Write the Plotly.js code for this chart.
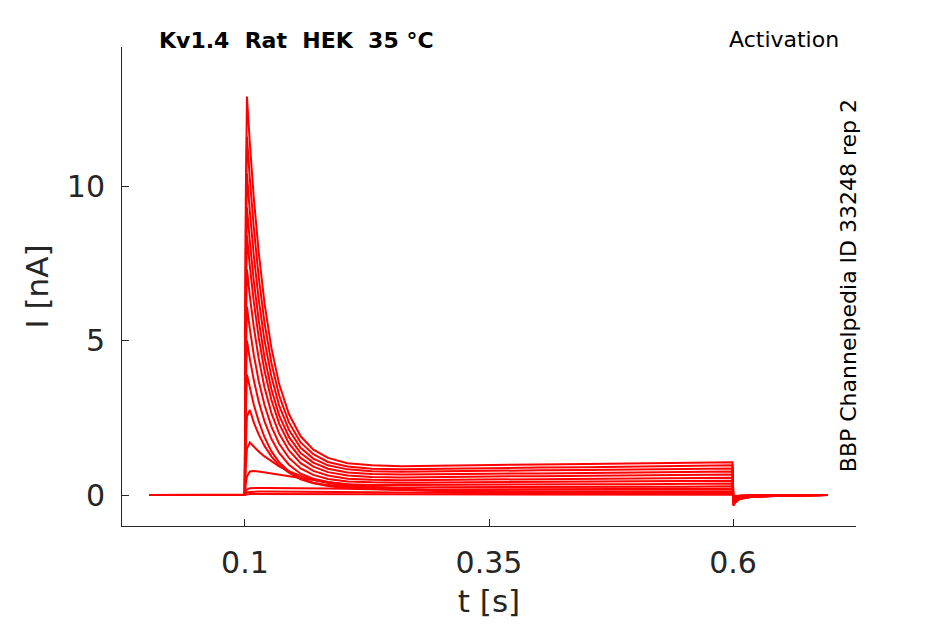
<!DOCTYPE html>
<html>
<head>
<meta charset="utf-8">
<script src="https://cdn.plot.ly/plotly-3.0.1.min.js"></script>
<style>html,body{margin:0;padding:0;background:#fff;}#chart{width:945px;height:624px;}</style>
</head>
<body>
<div id="chart"></div>
<script>
// time samples [s]
var timeS = [0.002, 0.05, 0.0998, 0.1008, 0.102, 0.105, 0.109, 0.114, 0.12, 0.127, 0.135, 0.145, 0.157, 0.17, 0.185, 0.205, 0.23, 0.26, 0.3, 0.35, 0.4, 0.45, 0.5, 0.55, 0.5995, 0.6005, 0.602, 0.607, 0.62, 0.65, 0.697];

// current traces [nA], one per activation step
var sweep01 = [0,0,0, 9.5, 12.9,11.38,9.63,7.87,6.2,4.77,3.59,2.62,1.90,1.47,1.2,1.03,0.96, 0.93,0.95,0.97,0.99,1.0,1.02,1.04,1.06, -0.35,-0.25,-0.13,-0.06,-0.02,0];
var sweep02 = [0,0,0, 8.5, 11.6,10.23,8.66,7.07,5.57,4.28,3.22,2.35,1.70,1.32,1.07,0.92,0.85, 0.83,0.85,0.87,0.89,0.9,0.92,0.94,0.96, -0.33,-0.24,-0.12,-0.06,-0.02,0];
var sweep03 = [0,0,0, 7.6, 10.4,9.17,7.76,6.34,5.0,3.84,2.89,2.11,1.53,1.18,0.96,0.83,0.77, 0.75,0.77,0.78,0.8,0.81,0.83,0.84,0.86, -0.31,-0.22,-0.11,-0.05,-0.02,0];
var sweep04 = [0,0,0, 6.8, 9.3,8.2,6.94,5.67,4.46,3.43,2.58,1.88,1.36,1.05,0.85,0.73,0.68, 0.66,0.68,0.69,0.7,0.72,0.73,0.75,0.76, -0.29,-0.2,-0.1,-0.05,-0.02,0];
var sweep05 = [0,0,0, 6.1, 8.4,7.4,6.26,5.11,4.02,3.08,2.31,1.67,1.2,0.92,0.74,0.63,0.58, 0.57,0.59,0.6,0.61,0.62,0.63,0.65,0.66, -0.27,-0.19,-0.1,-0.05,-0.02,0];
var sweep06 = [0,0,0, 5.3, 7.3,6.43,5.44,4.43,3.48,2.66,1.99,1.44,1.03,0.78,0.63,0.53,0.49, 0.48,0.49,0.5,0.51,0.52,0.53,0.55,0.56, -0.25,-0.17,-0.09,-0.04,-0.01,0];
var sweep07 = [0,0,0, 4.4, 6.1,5.37,4.54,3.7,2.91,2.22,1.66,1.2,0.86,0.65,0.52,0.44,0.41, 0.4,0.41,0.42,0.43,0.43,0.44,0.45,0.46, -0.23,-0.16,-0.08,-0.04,-0.01,0];
var sweep08 = [0,0,0, 3.5, 5.0,4.4,3.72,3.03,2.38,1.82,1.36,0.98,0.69,0.53,0.42,0.35,0.32, 0.32,0.33,0.33,0.34,0.35,0.35,0.36,0.37, -0.2,-0.14,-0.07,-0.03,-0.01,0];
var sweep09 = [0,0,0, 2.6, 3.9,3.48,2.93,2.39,1.87,1.42,1.06,0.76,0.54,0.4,0.32,0.26,0.24, 0.24,0.25,0.25,0.26,0.26,0.27,0.27,0.28, -0.18,-0.12,-0.06,-0.03,-0.01,0];
var sweep10 = [0,0,0, 1.6, 2.55,2.75,2.35,1.96,1.59,1.25,0.96,0.72,0.51,0.38,0.29,0.22,0.19, 0.17,0.18,0.18,0.19,0.19,0.19,0.2,0.2, -0.15,-0.1,-0.05,-0.02,-0.01,0];
var sweep11 = [0,0,0, 0.9, 1.5,1.7,1.57,1.41,1.25,1.09,0.93,0.77,0.62,0.49,0.39,0.29,0.22, 0.17,0.13,0.12,0.12,0.12,0.12,0.12,0.12, -0.12,-0.08,-0.04,-0.02,0,0];
var sweep12 = [0,0,0, 0.35, 0.6,0.76,0.78,0.76,0.73,0.69,0.64,0.59,0.53,0.47,0.41,0.34,0.27, 0.21,0.15,0.11,0.09,0.08,0.08,0.08,0.08, -0.1,-0.07,-0.03,-0.01,0,0];
var sweep13 = [0,0,0, 0.12, 0.18,0.22,0.23,0.23,0.23,0.23,0.22,0.22,0.22,0.21,0.21,0.2,0.19, 0.17,0.14,0.11,0.09,0.07,0.06,0.05,0.05, -0.08,-0.05,-0.02,-0.01,0,0];
var sweep14 = [0,0,0, 0.05, 0.08,0.1,0.11,0.11,0.11,0.11,0.11,0.1,0.1,0.1,0.1,0.09,0.09, 0.08,0.07,0.06,0.05,0.04,0.04,0.03,0.03, -0.06,-0.04,-0.02,-0.01,0,0];
var sweep15 = [0,0,0, 0.01, 0.02,0.03,0.03,0.03,0.03,0.03,0.03,0.03,0.03,0.03,0.03,0.03,0.03, 0.02,0.02,0.02,0.02,0.01,0.01,0.01,0.01, -0.05,-0.03,-0.02,-0.01,0,0];

var xTickVals = [0.1, 0.35, 0.6];
var xTickText = ['0.1', '0.35', '0.6'];
var yTickVals = [0, 5, 10];
var yTickText = ['0', '5', '10'];

var sweeps = [sweep01, sweep02, sweep03, sweep04, sweep05, sweep06, sweep07, sweep08, sweep09, sweep10, sweep11, sweep12, sweep13, sweep14, sweep15];

var traces = sweeps.map(function (s) {
  return {x: timeS, y: s, type: 'scatter', mode: 'lines',
          line: {color: '#ff0000', width: 2}, hoverinfo: 'skip', showlegend: false};
});

var axisColor = '#262626';
var layout = {
  width: 945, height: 624,
  margin: {l: 122, r: 89, t: 47, b: 98},
  paper_bgcolor: '#ffffff', plot_bgcolor: '#ffffff',
  font: {family: 'DejaVu Sans', color: axisColor},
  showlegend: false,
  xaxis: {
    range: [-0.026, 0.726], showgrid: false, zeroline: false,
    showline: true, linecolor: axisColor, linewidth: 1,
    ticks: 'inside', ticklen: 7, tickcolor: axisColor,
    tickvals: xTickVals, ticktext: xTickText,
    tickfont: {family: 'DejaVu Sans', size: 30, color: axisColor},
    ticklabelstandoff: 10,
    title: {text: 't [s]', font: {family: 'DejaVu Sans', size: 31, color: axisColor}, standoff: 11},
    automargin: false
  },
  yaxis: {
    range: [-1.003, 14.5], showgrid: false, zeroline: false,
    showline: true, linecolor: axisColor, linewidth: 1,
    ticks: 'inside', ticklen: 7, tickcolor: axisColor,
    tickvals: yTickVals, ticktext: yTickText,
    tickfont: {family: 'DejaVu Sans', size: 30, color: axisColor},
    ticklabelstandoff: 10,
    title: {text: 'I [nA]', font: {family: 'DejaVu Sans', size: 31, color: axisColor}, standoff: 8},
    automargin: false
  },
  annotations: [
    {text: '<b>Kv1.4\u00A0\u00A0Rat\u00A0\u00A0HEK\u00A0\u00A035\u00A0°C</b>', xref: 'paper', yref: 'paper',
     x: 0.048, y: 1.0146, xanchor: 'left', yanchor: 'middle', showarrow: false,
     font: {family: 'DejaVu Sans', size: 22, color: '#000000'}},
    {text: 'Activation', xref: 'paper', yref: 'paper',
     x: 0.979, y: 1.0167, xanchor: 'right', yanchor: 'middle', showarrow: false,
     font: {family: 'DejaVu Sans', size: 22, color: '#000000'}},
    {text: 'BBP Channelpedia ID 33248 rep 2', xref: 'paper', yref: 'paper',
     x: 0.990, y: 0.502, xanchor: 'center', yanchor: 'middle', textangle: -90, showarrow: false,
     font: {family: 'DejaVu Sans', size: 22, color: '#000000'}}
  ]
};

Plotly.newPlot('chart', traces, layout, {staticPlot: true, displayModeBar: false});
</script>
</body>
</html>
